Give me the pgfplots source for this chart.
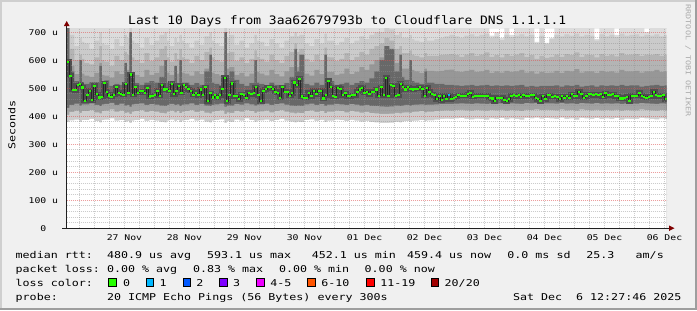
\documentclass[border=0pt]{standalone}
\usepackage{pgfplots}
\pgfplotsset{compat=1.18}
\usepackage{pgfplotstable}
\usepackage{fontspec}
\setmainfont{DejaVu Sans Mono}[FakeStretch=1.24]
\newfontfamily\ttT{DejaVu Sans Mono}[FakeStretch=1.12]
\newfontfamily\ttL{DejaVu Sans Mono}[FakeStretch=1.24]
\definecolor{bgc}{HTML}{F0F0F0}
\definecolor{shadea}{HTML}{CFCFCF}
\definecolor{shadeb}{HTML}{9E9E9E}
\definecolor{mgrid}{HTML}{DE5050}
\definecolor{mingrid}{HTML}{8F8F8F}
\definecolor{arrowc}{HTML}{7F0000}
\definecolor{axisc}{HTML}{202020}
\definecolor{credc}{HTML}{ABABAB}
\definecolor{sA}{HTML}{DCDCDC}
\definecolor{sB}{HTML}{CBCBCB}
\definecolor{sC}{HTML}{B4B4B4}
\definecolor{sD}{HTML}{979797}
\definecolor{sE}{HTML}{686868}
\definecolor{sF}{HTML}{A2A2A2}
\definecolor{sG}{HTML}{CDCDCD}
\definecolor{medc}{HTML}{4E4E4E}
\definecolor{lc0}{HTML}{26FF00}
\definecolor{lc1}{HTML}{00B8FF}
\definecolor{lc2}{HTML}{0059FF}
\definecolor{lc3}{HTML}{7E00FF}
\definecolor{lc4}{HTML}{EE00FF}
\definecolor{lc6}{HTML}{FF5500}
\definecolor{lc11}{HTML}{FF0000}
\definecolor{lc20}{HTML}{A10000}

\pgfplotstableread{
h top u1 u2 u3 dk l2 l1 lo
12 715 715 715 715 715 430 405 380
14 715 690 640 580 560 440 415 385
16 715 650 600 550 525 445 420 388
18 715 680 620 570 600 438 412 380
19 715 665 605 552 515 442 418 386
20 715 660 590 545 515 442 418 386
22 715 640 585 540 522 446 422 390
24 715 670 610 555 522 440 414 382
26 715 700 650 590 580 436 410 378
27 715 660 600 548 520 442 418 386
28 715 655 595 545 528 444 420 388
30 715 640 580 538 508 448 424 392
32 715 675 615 560 515 440 416 384
34 715 650 600 550 512 445 420 386
36 715 690 630 575 590 438 412 380
37 715 680 620 565 530 440 414 382
38 715 715 690 650 700 434 408 376
39 715 670 610 556 520 442 416 384
40 715 660 600 548 518 444 418 386
42 715 645 590 540 512 446 422 390
44 715 680 625 565 520 440 415 383
46 715 655 598 548 525 443 419 387
48 715 670 610 555 520 441 416 384
50 715 690 640 580 540 438 412 380
52 715 700 650 600 600 436 410 378
53 715 670 610 556 520 440 416 384
54 715 650 595 548 512 444 420 388
56 715 680 625 575 580 440 414 382
57 715 665 605 552 515 442 418 386
58 715 690 640 590 600 437 411 379
59 715 670 610 556 520 441 416 384
60 715 660 605 552 520 442 418 386
62 715 645 590 545 512 446 422 390
64 715 670 615 560 518 440 415 384
66 715 655 600 550 512 444 420 388
68 715 685 630 570 560 438 413 381
70 715 700 645 590 620 436 410 378
71 715 670 610 556 520 440 416 384
72 715 660 600 550 515 442 418 386
74 715 650 595 545 510 445 421 389
76 715 715 680 630 700 434 408 376
77 715 680 625 570 540 438 414 382
78 715 690 630 575 560 438 412 380
80 715 655 598 548 530 443 419 388
82 715 670 610 555 515 441 416 384
84 715 645 590 542 508 446 422 392
86 715 660 605 552 518 442 418 386
88 715 690 635 585 600 438 412 380
89 715 670 612 558 520 441 416 384
90 715 665 605 552 515 442 417 385
92 715 650 595 546 510 445 420 388
94 715 675 620 565 520 440 414 382
96 715 660 600 550 512 443 418 386
98 715 645 590 542 508 446 422 390
100 715 670 615 560 518 441 416 384
102 715 685 630 575 540 438 413 381
104 715 700 660 610 640 436 410 378
105 715 685 630 575 560 438 413 381
106 715 690 640 590 620 437 411 379
108 715 660 605 552 515 442 418 386
110 715 650 595 545 510 445 421 389
112 715 675 620 565 520 440 415 383
114 715 660 600 550 512 443 419 387
116 715 695 645 595 620 437 411 379
117 715 670 612 558 520 441 416 384
118 715 670 610 558 525 441 416 384
120 715 655 598 548 512 444 420 388
122 715 665 605 552 515 442 418 386
124 715 680 625 570 520 440 414 382
126 715 660 600 550 512 443 419 387
128 715 670 612 558 518 441 416 384
130 715 685 630 575 525 438 413 381
132 715 675 620 565 520 440 415 383
134 715 690 640 585 535 437 411 379
136 715 700 650 600 560 436 410 378
138 715 700 660 610 600 435 408 376
140 715 715 680 640 650 434 408 376
142 715 710 670 625 640 435 409 377
144 715 690 640 590 560 438 412 380
146 715 700 650 600 620 436 410 378
147 715 680 625 570 540 438 413 381
148 715 680 625 570 530 440 414 382
150 715 690 635 585 600 438 412 380
151 715 675 620 565 525 440 415 383
152 715 670 615 560 520 441 416 384
154 715 665 610 555 515 442 418 386
156 715 680 625 570 560 440 414 382
157 715 670 615 562 520 441 416 385
158 715 670 615 562 520 441 416 385
160 715 675 615 560 515 442 418 388
162 715 680 618 562 515 443 420 390
164 715 685 620 565 512 444 421 391
166 715 690 622 566 512 444 420 390
168 715 685 618 560 510 445 422 392
170 715 680 612 558 508 446 423 393
172 715 688 620 562 510 445 421 390
174 715 692 625 565 512 444 420 389
176 715 685 615 558 508 446 422 391
178 715 690 620 560 510 445 421 390
180 715 695 628 565 512 444 420 388
182 688 680 612 555 508 446 422 392
184 700 685 618 560 510 445 421 390
186 680 672 610 556 508 446 423 393
188 715 690 622 562 510 444 420 389
190 690 682 615 558 508 446 422 392
192 715 688 620 560 510 445 421 390
194 715 692 625 565 512 444 419 388
196 715 685 612 556 506 447 423 394
198 715 690 618 560 508 446 422 392
200 665 660 605 552 506 447 424 395
202 715 688 615 558 508 446 422 391
204 662 658 608 555 508 446 423 393
206 680 675 612 556 508 446 422 392
208 715 690 620 562 510 445 421 390
210 715 685 612 555 506 447 424 395
212 715 692 622 562 510 445 421 390
214 715 688 618 560 508 446 422 392
216 715 695 628 568 512 444 420 388
218 715 685 612 556 506 447 424 394
220 715 690 620 560 508 446 422 392
222 715 688 618 560 510 445 421 390
224 675 670 610 555 506 447 423 393
226 715 692 622 562 510 445 421 390
228 715 685 615 558 508 446 422 392
230 715 690 620 560 510 445 421 390
232 690 682 614 556 508 446 423 393
234 715 695 625 565 512 444 420 388
236 715 688 618 560 508 446 422 391
238 715 690 620 560 510 445 421 390
240 715 692 622 562 510 445 421 390
242 715 685 615 556 506 447 424 394
244 700 690 620 560 508 446 422 392
246 715 688 618 560 510 445 421 390
248 715 692 622 565 512 444 420 389
250 715 685 615 558 508 446 422 392
252 715 690 620 560 510 445 421 390
254 715 690 620 560 510 445 421 390
}\smoke

\pgfplotstableread[row sep=\\]{
med\\
594\\ 544\\ 494\\ 493\\ 511\\ 514\\ 502\\ 455\\ 475\\ 491\\ 457\\ 509\\ 479\\ 467\\ 469\\ 518\\ 487\\ 474\\ 469\\ 476\\
504\\ 484\\ 480\\ 476\\ 514\\ 483\\ 549\\ 476\\ 504\\ 484\\ 489\\ 489\\ 484\\ 501\\ 470\\ 473\\ 475\\ 490\\ 473\\ 511\\
495\\ 497\\ 490\\ 515\\ 479\\ 490\\ 508\\ 483\\ 511\\ 504\\ 497\\ 490\\ 476\\ 483\\ 475\\ 495\\ 476\\ 504\\ 454\\ 482\\ 467\\
475\\ 467\\ 475\\ 498\\ 537\\ 454\\ 475\\ 517\\ 471\\ 471\\ 461\\ 479\\ 475\\ 466\\ 483\\ 479\\ 483\\ 504\\ 475\\ 454\\
491\\ 497\\ 504\\ 504\\ 498\\ 487\\ 483\\ 466\\ 504\\ 487\\ 487\\ 473\\ 482\\ 520\\ 511\\ 533\\ 470\\ 466\\ 466\\ 484\\
471\\ 491\\ 479\\ 491\\ 491\\ 463\\ 475\\ 526\\ 504\\ 471\\ 469\\ 501\\ 498\\ 475\\ 482\\ 471\\ 471\\ 475\\ 475\\ 487\\ 495\\ 501\\
483\\ 487\\ 479\\ 487\\ 487\\ 495\\ 473\\ 504\\ 475\\ 537\\ 473\\ 511\\ 508\\ 473\\ 475\\ 515\\ 504\\ 495\\ 504\\ 498\\
495\\ 498\\ 498\\ 504\\ 498\\ 473\\ 501\\ 487\\ 479\\ 475\\ 461\\ 473\\ 457\\ 473\\ 461\\ 475\\ 461\\ 466\\ 469\\ 475\\
473\\ 473\\ 473\\ 479\\ 483\\ 469\\ 473\\ 473\\ 473\\ 473\\ 473\\ 473\\ 466\\ 463\\ 454\\ 466\\ 466\\ 466\\ 457\\ 454\\ 461\\ 473\\ 475\\
471\\ 475\\ 469\\ 475\\ 471\\ 473\\ 475\\ 475\\ 466\\ 461\\ 454\\ 471\\ 461\\ 475\\ 475\\ 469\\ 471\\ 469\\ 461\\ 471\\
466\\ 471\\ 466\\ 479\\ 471\\ 471\\ 487\\ 479\\ 466\\ 471\\ 479\\ 479\\ 475\\ 479\\ 475\\ 479\\ 469\\ 482\\ 475\\ 475\\
479\\ 471\\ 471\\ 463\\ 463\\ 466\\ 469\\ 454\\ 473\\ 473\\ 473\\ 483\\ 473\\ 469\\ 466\\ 469\\ 471\\ 487\\ 475\\ 471\\ 471\\ 475\\ 461\\ 461\\
}\med

\pgfplotsset{
  rrdbase/.style={
    at={(66.7bp,81.8bp)}, anchor=south west,
    scale only axis, width=600bp, height=199.36bp,
    xmin=12.9, xmax=252.9, ymin=0, ymax=712,
    axis line style={draw=none},
    tick style={draw=none},
  },
}

\begin{document}
\begin{tikzpicture}[x=1bp,y=1bp]
\fill[bgc] (0,0) rectangle (697,310);
\fill[shadea] (0,0) rectangle (2,310);
\fill[shadea] (0,308) rectangle (697,310);
\fill[shadeb] (694.5,0) rectangle (697,310);
\fill[shadeb] (0,0) rectangle (697,2.5);

% smoke
\begin{axis}[rrdbase,
  axis background/.style={fill=white},
  xtick=\empty, ytick=\empty,
]
\addplot[const plot, draw=none, fill=sA] table[x=h,y=top]{\smoke} \closedcycle;
\addplot[const plot, draw=none, fill=sB] table[x=h,y=u1]{\smoke} \closedcycle;
\addplot[const plot, draw=none, fill=sC] table[x=h,y=u2]{\smoke} \closedcycle;
\addplot[const plot, draw=none, fill=sD] table[x=h,y=u3]{\smoke} \closedcycle;
\addplot[const plot, draw=none, fill=sE] table[x=h,y=dk]{\smoke} \closedcycle;
\addplot[const plot, draw=none, fill=sF] table[x=h,y=l2]{\smoke} \closedcycle;
\addplot[const plot, draw=none, fill=sG] table[x=h,y=l1]{\smoke} \closedcycle;
\addplot[const plot, draw=none, fill=white] table[x=h,y=lo]{\smoke} \closedcycle;
\addplot[const plot, draw=medc, line width=5bp, mark=none] table[x expr=13+0.964*\coordindex, y=med]{\med};
\end{axis}

% grid, labels and median
\begin{axis}[rrdbase,
  xtick={36,60,...,252},
  xticklabels={27 Nov,28 Nov,29 Nov,30 Nov,01 Dec,02 Dec,03 Dec,04 Dec,05 Dec,06 Dec},
  minor xtick={18,30,...,246},
  extra x ticks={24,48,...,240},
  extra x tick labels={},
  extra x tick style={grid=major, major grid style={draw=mgrid, draw opacity=0.55, dash pattern=on 1bp off 1bp, line width=0.9bp}},
  ytick={0,100,...,700},
  yticklabels={0\phantom{xx},100 u,200 u,300 u,400 u,500 u,600 u,700 u},
  minor y tick num=4,
  xmajorgrids, xminorgrids,
  ymajorgrids, yminorgrids,
  major x grid style={draw=mingrid, draw opacity=0.45, dash pattern=on 1bp off 1bp, line width=0.8bp},
  major y grid style={draw=mgrid, draw opacity=0.55, dash pattern=on 1bp off 1bp, line width=0.9bp},
  minor grid style={draw=mingrid, draw opacity=0.45, dash pattern=on 1bp off 1bp, line width=0.8bp},
  ticklabel style={font=\ttL\fontsize{7.9bp}{9bp}\selectfont, inner sep=0pt},
  xticklabel style={anchor=north, yshift=-6.7bp},
  yticklabel style={anchor=east, xshift=-8.4bp},
]
\addplot[const plot, draw=black!85, line width=0.9bp, mark=none] table[x expr=13+0.964*\coordindex, y=med]{\med};
\addplot[jump mark left, draw=lc0, line width=2.3bp, mark=none] table[x expr=13+0.964*\coordindex, y=med]{\med};
\addplot[jump mark left, draw=lc1, line width=2.3bp, mark=none] coordinates {(165.31,475) (166.27,475)};
\end{axis}

% axis lines and arrows
\draw[axisc, line width=1bp] (62,81.8) -- (669.5,81.8);
\fill[arrowc] (669,84.6) -- (674.5,81.8) -- (669,79.0) -- cycle;
\draw[axisc, line width=1bp] (66.7,81.8) -- (66.7,284.5);
\fill[arrowc] (63.9,284) -- (66.7,289) -- (69.5,284) -- cycle;

% title and descriptions
\node[anchor=base, inner sep=0pt, font=\ttT\fontsize{11.6bp}{13bp}\selectfont] at (347.2,286) {Last 10 Days from 3aa62679793b to Cloudflare DNS 1.1.1.1};
\node[rotate=90, anchor=base, inner sep=0pt, font=\ttL\fontsize{9.4bp}{11bp}\selectfont] at (15.3,185) {Seconds};
\node[rotate=-90, anchor=center, inner sep=0pt, text=credc, font=\ttL\fontsize{6.8bp}{8bp}\selectfont] at (688,249.5) {RRDTOOL / TOBI OETIKER};

\begin{scope}[every node/.style={anchor=base west, inner sep=0pt, font=\ttL\fontsize{9.4bp}{11bp}\selectfont}]
\node at (15.5,51.7) {median rtt:};
\node at (106.8,51.7) {480.9 us avg};
\node at (206.8,51.7) {593.1 us max};
\node at (311.6,51.7) {452.1 us min};
\node at (406.8,51.7) {459.4 us now};
\node at (507.2,51.7) {0.0 ms sd};
\node at (586.2,51.7) {25.3};
\node at (635.5,51.7) {am/s};
\node at (15.5,37.7) {packet loss:};
\node at (106.8,37.7) {0.00 \% avg};
\node at (192.8,37.7) {0.83 \% max};
\node at (278.8,37.7) {0.00 \% min};
\node at (364.5,37.7) {0.00 \% now};
\node at (15.5,23.7) {loss color:};
\node at (122.8,23.7) {0};
\node at (159.5,23.7) {1};
\node at (196.2,23.7) {2};
\node at (232.8,23.7) {3};
\node at (270.2,23.7) {4-5};
\node at (321.2,23.7) {6-10};
\node at (380.2,23.7) {11-19};
\node at (444.5,23.7) {20/20};
\node at (15.5,10) {probe:};
\node at (106.8,10) {20 ICMP Echo Pings (56 Bytes) every 300s};
\node at (512.8,10) {Sat Dec\ \ 6 12:27:46 2025};
\end{scope}
\begin{scope}[line width=0.9bp, draw=black]
\filldraw[fill=lc0] (108.7,23.9) rectangle (116.3,32.0);
\filldraw[fill=lc1] (146.1,23.9) rectangle (153.7,32.0);
\filldraw[fill=lc2] (183.1,23.9) rectangle (190.7,32.0);
\filldraw[fill=lc3] (219.7,23.9) rectangle (227.3,32.0);
\filldraw[fill=lc4] (256.4,23.9) rectangle (264.0,32.0);
\filldraw[fill=lc6] (307.7,23.9) rectangle (315.3,32.0);
\filldraw[fill=lc11] (366.4,23.9) rectangle (374.0,32.0);
\filldraw[fill=lc20] (431.1,23.9) rectangle (438.7,32.0);
\end{scope}
\pgfresetboundingbox
\path[use as bounding box] (0,0) rectangle (697,310);
\end{tikzpicture}
\end{document}
